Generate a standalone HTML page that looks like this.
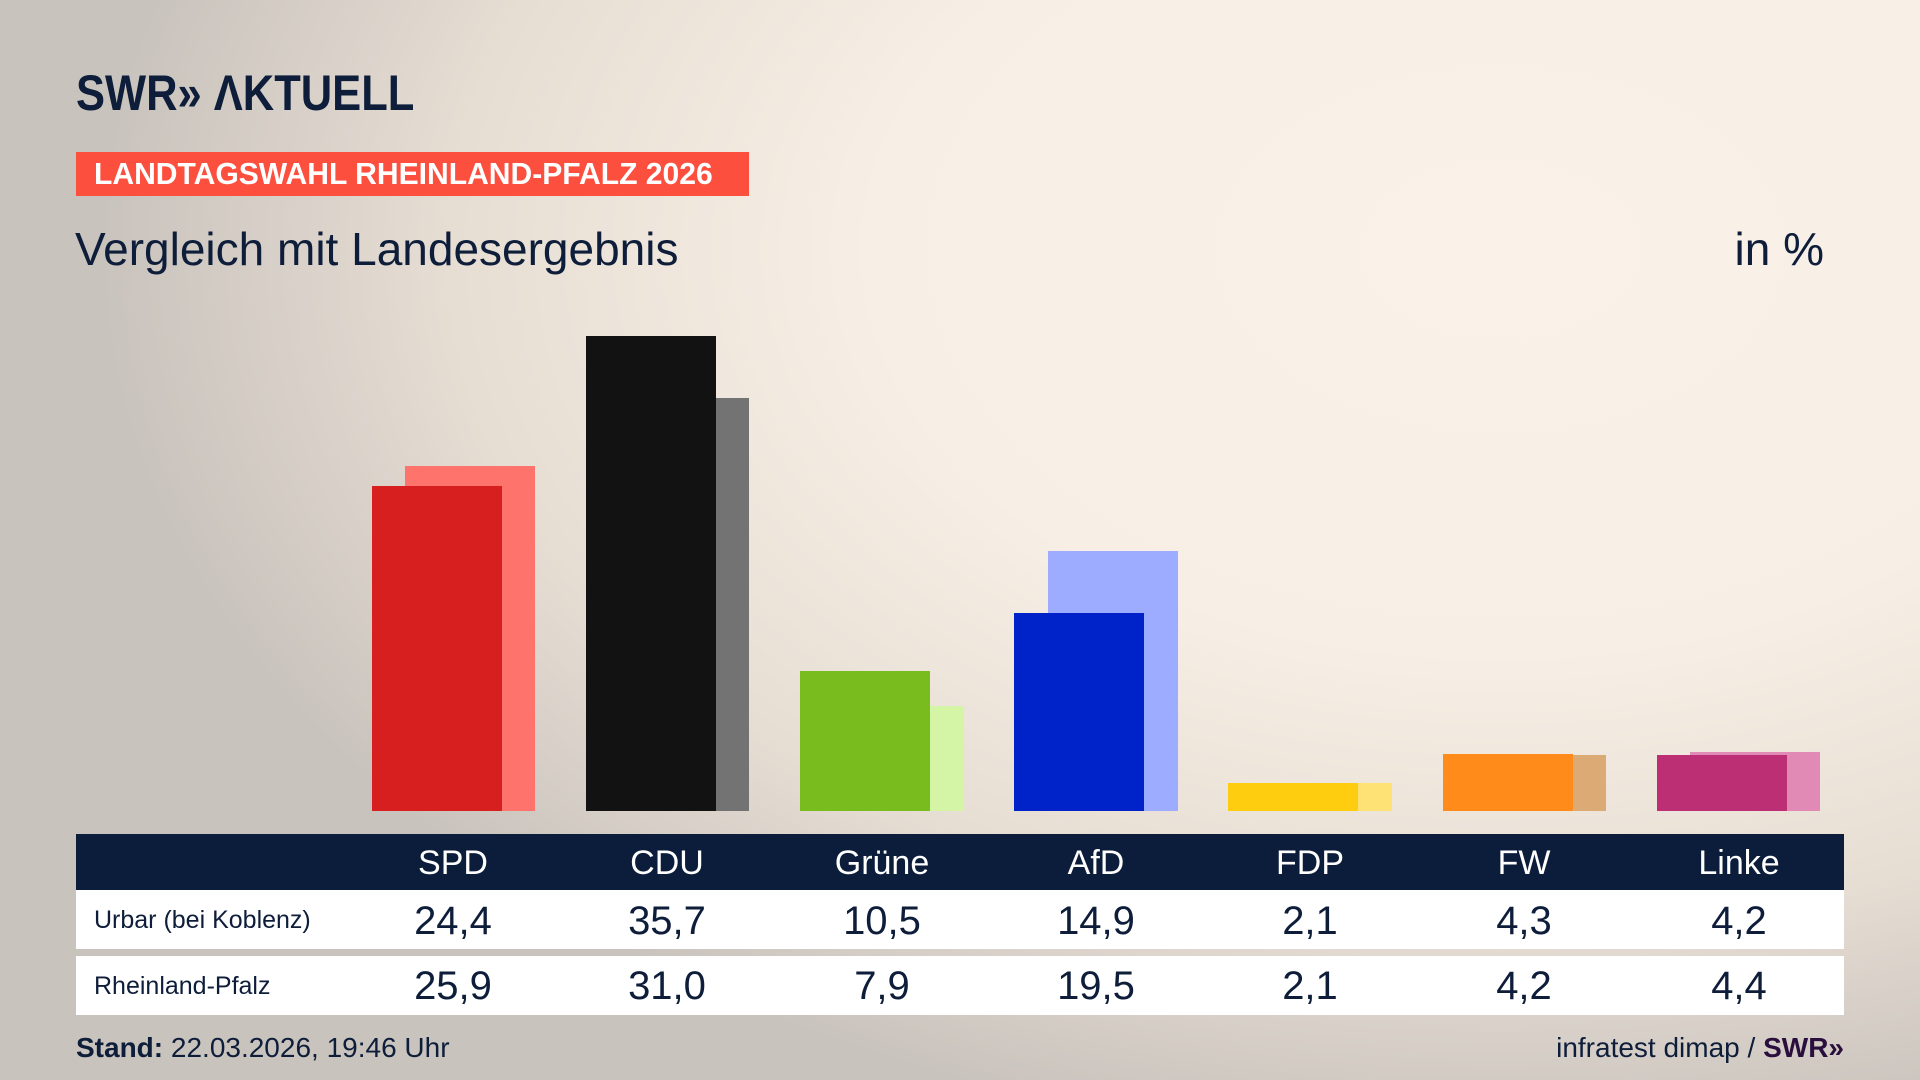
<!DOCTYPE html>
<html><head><meta charset="utf-8"><style>
body{margin:0;width:1920px;height:1080px;overflow:hidden;font-family:"Liberation Sans",sans-serif;color:#0d1d3a;
background:radial-gradient(ellipse 1400px 900px at 1500px 250px,#faf2e8 0%,#f7efe5 45%,#e6ddd3 75%,#c9c3bd 100%);}
.a{position:absolute;white-space:nowrap}
</style></head><body>
<div class="a" style="left:76px;top:64px;font-size:50px;font-weight:bold;color:#0d1d3a;transform:scaleX(0.87);transform-origin:0 0">SWR»&nbsp;ΛKTUELL</div>
<div class="a" style="left:76px;top:152px;width:673px;height:44px;background:#fc4f3e;"></div>
<div class="a" style="left:94px;top:152px;color:#fff;font-weight:bold;font-size:31px;line-height:44px;transform:scaleX(0.97);transform-origin:0 0">LANDTAGSWAHL RHEINLAND-PFALZ 2026</div>
<div class="a" style="left:75px;top:222px;font-size:46px">Vergleich mit Landesergebnis</div>
<div class="a" style="right:96px;top:222px;font-size:46px">in %</div>
<svg class="a" style="left:0;top:0" width="1920" height="1080">
<g>
<rect x="405" y="466" width="130" height="345" fill="#ff736d"/><rect x="372" y="486" width="130" height="325" fill="#d81f1f"/>
<rect x="619" y="398" width="130" height="413" fill="#737373"/><rect x="586" y="336" width="130" height="475" fill="#121212"/>
<rect x="834" y="706" width="130" height="105" fill="#d5f5a6"/><rect x="800" y="671" width="130" height="140" fill="#78bc1e"/>
<rect x="1048" y="551" width="130" height="260" fill="#9dacff"/><rect x="1014" y="613" width="130" height="198" fill="#0023c9"/>
<rect x="1262" y="783" width="130" height="28" fill="#ffe275"/><rect x="1228" y="783" width="130" height="28" fill="#ffcd10"/>
<rect x="1476" y="755" width="130" height="56" fill="#dcaa75"/><rect x="1443" y="754" width="130" height="57" fill="#ff8c1a"/>
<rect x="1690" y="752" width="130" height="59" fill="#e08ab5"/><rect x="1657" y="755" width="130" height="56" fill="#bc2f74"/>
</g>
<rect x="76" y="834" width="1768" height="56" fill="#0c1d3b"/>
<rect x="76" y="890" width="1768" height="59" fill="#fff"/>
<rect x="76" y="956" width="1768" height="59" fill="#fff"/>
<g font-family="Liberation Sans, sans-serif" text-anchor="middle">
<g fill="#fff" font-size="34"><text x="453" y="874">SPD</text><text x="667" y="874">CDU</text><text x="882" y="874">Grüne</text><text x="1096" y="874">AfD</text><text x="1310" y="874">FDP</text><text x="1524" y="874">FW</text><text x="1739" y="874">Linke</text></g>
<g fill="#0d1d3a" font-size="40">
<text x="453" y="934">24,4</text><text x="667" y="934">35,7</text><text x="882" y="934">10,5</text><text x="1096" y="934">14,9</text><text x="1310" y="934">2,1</text><text x="1524" y="934">4,3</text><text x="1739" y="934">4,2</text>
<text x="453" y="999">25,9</text><text x="667" y="999">31,0</text><text x="882" y="999">7,9</text><text x="1096" y="999">19,5</text><text x="1310" y="999">2,1</text><text x="1524" y="999">4,2</text><text x="1739" y="999">4,4</text></g>
<g fill="#0d1d3a" font-size="25" text-anchor="start"><text x="94" y="928">Urbar (bei Koblenz)</text><text x="94" y="994">Rheinland-Pfalz</text></g>
<text x="76" y="1057" font-size="28" text-anchor="start" fill="#0d1d3a"><tspan font-weight="bold">Stand:</tspan> 22.03.2026, 19:46 Uhr</text>
<text x="1844" y="1057" font-size="28" text-anchor="end" fill="#0d1d3a">infratest dimap / <tspan font-weight="bold" fill="#2a0f3e">SWR»</tspan></text>
</g>
</svg>
</body></html>
